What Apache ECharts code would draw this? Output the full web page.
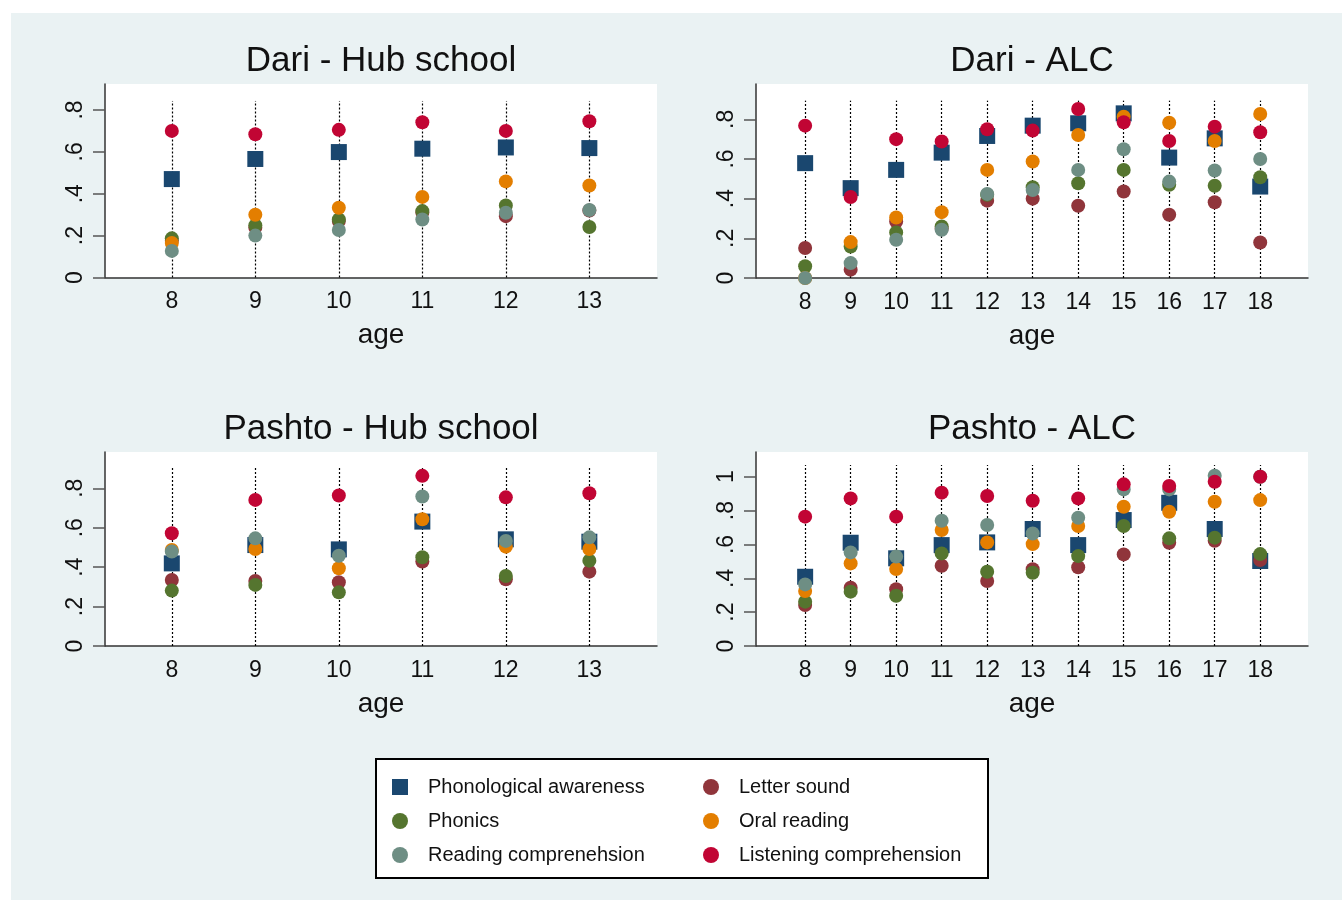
<!DOCTYPE html>
<html>
<head>
<meta charset="utf-8">
<script src="https://cdn.jsdelivr.net/npm/echarts@6/dist/echarts.min.js"></script>
<style>
html,body{margin:0;padding:0;background:#fff;}
#c{width:1342px;height:900px;}
</style>
</head>
<body>
<div id="c"></div>
<script>
// ---- data ----
const agesHub = [8, 9, 10, 11, 12, 13];
const agesALC = [8, 9, 10, 11, 12, 13, 14, 15, 16, 17, 18];
const yTicksA = [0, 0.2, 0.4, 0.6, 0.8];
const yTicksB = [0, 0.2, 0.4, 0.6, 0.8, 1];

const seriesNames = ['Phonological awareness', 'Letter sound', 'Phonics', 'Oral reading', 'Reading comprenehsion', 'Listening comprehension'];
const panelTitles = ['Dari - Hub school', 'Dari - ALC', 'Pashto - Hub school', 'Pashto - ALC'];

// Dari - Hub school
const dariHub_PA = [0.47, 0.566, 0.599, 0.615, 0.621, 0.618];
const dariHub_LS = [0.175, 0.238, 0.27, 0.31, 0.293, 0.32];
const dariHub_PH = [0.187, 0.249, 0.277, 0.317, 0.344, 0.241];
const dariHub_OR = [0.165, 0.30, 0.333, 0.385, 0.459, 0.439];
const dariHub_RC = [0.127, 0.20, 0.227, 0.277, 0.309, 0.322];
const dariHub_LC = [0.70, 0.684, 0.705, 0.741, 0.70, 0.746];

// Dari - ALC
const dariALC_PA = [0.579, 0.453, 0.545, 0.632, 0.716, 0.768, 0.78, 0.83, 0.607, 0.704, 0.461];
const dariALC_LS = [0.151, 0.042, 0.285, 0.25, 0.39, 0.40, 0.364, 0.436, 0.319, 0.382, 0.179];
const dariALC_PH = [0.059, 0.159, 0.23, 0.26, 0.42, 0.458, 0.478, 0.545, 0.47, 0.465, 0.508];
const dariALC_OR = [0.0, 0.181, 0.305, 0.332, 0.545, 0.587, 0.721, 0.813, 0.783, 0.691, 0.827];
const dariALC_RC = [0.0, 0.075, 0.193, 0.243, 0.424, 0.444, 0.545, 0.649, 0.486, 0.542, 0.60];
const dariALC_LC = [0.768, 0.408, 0.70, 0.688, 0.75, 0.743, 0.852, 0.785, 0.691, 0.763, 0.735];

// Pashto - Hub school
const pashHub_PA = [0.419, 0.512, 0.49, 0.631, 0.541, 0.529];
const pashHub_LS = [0.335, 0.33, 0.323, 0.428, 0.338, 0.377];
const pashHub_PH = [0.281, 0.31, 0.272, 0.45, 0.355, 0.433];
const pashHub_OR = [0.487, 0.492, 0.394, 0.643, 0.504, 0.492];
const pashHub_RC = [0.479, 0.546, 0.458, 0.758, 0.533, 0.551];
const pashHub_LC = [0.572, 0.741, 0.763, 0.863, 0.754, 0.775];

// Pashto - ALC
const pashALC_PA = [0.409, 0.61, 0.518, 0.596, 0.612, 0.691, 0.596, 0.744, 0.846, 0.691, 0.502];
const pashALC_LS = [0.242, 0.344, 0.335, 0.474, 0.384, 0.453, 0.465, 0.541, 0.61, 0.622, 0.508];
const pashALC_PH = [0.262, 0.321, 0.297, 0.547, 0.439, 0.433, 0.531, 0.709, 0.636, 0.64, 0.543];
const pashALC_OR = [0.325, 0.488, 0.455, 0.685, 0.612, 0.602, 0.709, 0.823, 0.793, 0.852, 0.862];
const pashALC_RC = [0.364, 0.553, 0.528, 0.74, 0.715, 0.665, 0.758, 0.925, 0.925, 1.006, 1.0];
const pashALC_LC = [0.764, 0.872, 0.764, 0.906, 0.886, 0.858, 0.872, 0.955, 0.945, 0.97, 1.0];

// ---- styles / layout ----
const colors = ['#1a476f', '#90353b', '#55752f', '#e37e00', '#6e8e84', '#c10534'];
const symbols = ['rect', 'circle', 'circle', 'circle', 'circle', 'circle'];
const FONT = '"Liberation Sans", Arial, sans-serif';

const panels = [
  { ages: agesHub, data: [dariHub_PA, dariHub_LS, dariHub_PH, dariHub_OR, dariHub_RC, dariHub_LC],
    grid: { left: 105, top: 84, width: 552, height: 193.5 }, xmin: 7.2, xmax: 13.81, ymax: 0.924, yticks: yTicksA, lineTop: 0.843 },
  { ages: agesALC, data: [dariALC_PA, dariALC_LS, dariALC_PH, dariALC_OR, dariALC_RC, dariALC_LC],
    grid: { left: 756, top: 84, width: 552, height: 194 }, xmin: 6.92, xmax: 19.05, ymax: 0.978, yticks: yTicksA, lineTop: 0.894 },
  { ages: agesHub, data: [pashHub_PA, pashHub_LS, pashHub_PH, pashHub_OR, pashHub_RC, pashHub_LC],
    grid: { left: 105, top: 452, width: 552, height: 194 }, xmin: 7.2, xmax: 13.81, ymax: 0.984, yticks: yTicksA, lineTop: 0.903 },
  { ages: agesALC, data: [pashALC_PA, pashALC_LS, pashALC_PH, pashALC_OR, pashALC_RC, pashALC_LC],
    grid: { left: 756, top: 452, width: 552, height: 194 }, xmin: 6.92, xmax: 19.05, ymax: 1.146, yticks: yTicksB, lineTop: 1.069 }
];

const grids = [], xAxes = [], yAxes = [], series = [], titles = [];
panels.forEach((p, i) => {
  grids.push(Object.assign({ show: true, backgroundColor: '#ffffff', borderWidth: 0, containLabel: false }, p.grid));
  titles.push({
    text: panelTitles[i], left: p.grid.left + p.grid.width / 2 - 5, top: p.grid.top - 45, textAlign: 'center',
    textStyle: { fontFamily: FONT, fontSize: 35, fontWeight: 'normal', color: '#111' }
  });
  xAxes.push({
    type: 'value', gridIndex: i, min: p.xmin, max: p.xmax,
    axisLine: { show: true, lineStyle: { color: '#333', width: 1.5 } },
    axisTick: { show: false },
    splitLine: { show: false },
    axisLabel: { customValues: p.ages, fontFamily: FONT, fontSize: 23, color: '#111', margin: 13 },
    name: 'age', nameLocation: 'middle', nameGap: 44,
    nameTextStyle: { fontFamily: FONT, fontSize: 28, color: '#111' }
  });
  yAxes.push({
    type: 'value', gridIndex: i, min: 0, max: p.ymax,
    axisLine: { show: true, lineStyle: { color: '#333', width: 1.5 } },
    axisTick: { show: true, customValues: p.yticks, length: 12, lineStyle: { color: '#555', width: 1.5 } },
    splitLine: { show: false },
    axisLabel: {
      customValues: p.yticks, rotate: 90, margin: 18, fontFamily: FONT, fontSize: 23, color: '#111',
      formatter: v => (v === 0 ? '0' : String(v).replace(/^0/, ''))
    }
  });
  p.data.forEach((vals, k) => {
    const s = {
      name: seriesNames[k], type: 'scatter', xAxisIndex: i, yAxisIndex: i,
      symbol: symbols[k], symbolSize: k === 0 ? 16 : 14,
      itemStyle: { color: colors[k], opacity: 1 },
      emphasis: { disabled: true },
      z: 3,
      data: p.ages.map((a, j) => [a, vals[j]])
    };
    if (k === 0) {
      s.markLine = {
        silent: true, symbol: 'none', z: 1, animation: false,
        label: { show: false },
        lineStyle: { color: '#000', type: [2, 2], width: 1.2 },
        emphasis: { disabled: true },
        data: p.ages.map(a => [{ coord: [a, 0] }, { coord: [a, p.lineTop] }])
      };
    }
    series.push(s);
  });
});

const legendCommon = {
  orient: 'vertical', itemWidth: 16, itemHeight: 16, itemGap: 12, selectedMode: false, padding: 0,
  textStyle: { fontFamily: FONT, fontSize: 20, color: '#111', lineHeight: 22, padding: [0, 0, 0, 15] }
};

const option = {
  backgroundColor: '#ffffff',
  animation: false,
  graphic: [
    { type: 'rect', z: -100, shape: { x: 11, y: 13, width: 1331, height: 887 }, style: { fill: '#eaf2f3' } },
    { type: 'rect', z: -50, shape: { x: 376, y: 759, width: 612, height: 119 }, style: { fill: '#ffffff', stroke: '#000', lineWidth: 2 } }
  ],
  title: titles,
  grid: grids,
  xAxis: xAxes,
  yAxis: yAxes,
  legend: [
    Object.assign({ left: 392, top: 776, data: [seriesNames[0], seriesNames[2], seriesNames[4]] }, legendCommon),
    Object.assign({ left: 703, top: 776, data: [seriesNames[1], seriesNames[3], seriesNames[5]] }, legendCommon)
  ],
  series: series
};

const chart = echarts.init(document.getElementById('c'), null, { renderer: 'canvas' });
chart.setOption(option);
</script>
</body>
</html>
